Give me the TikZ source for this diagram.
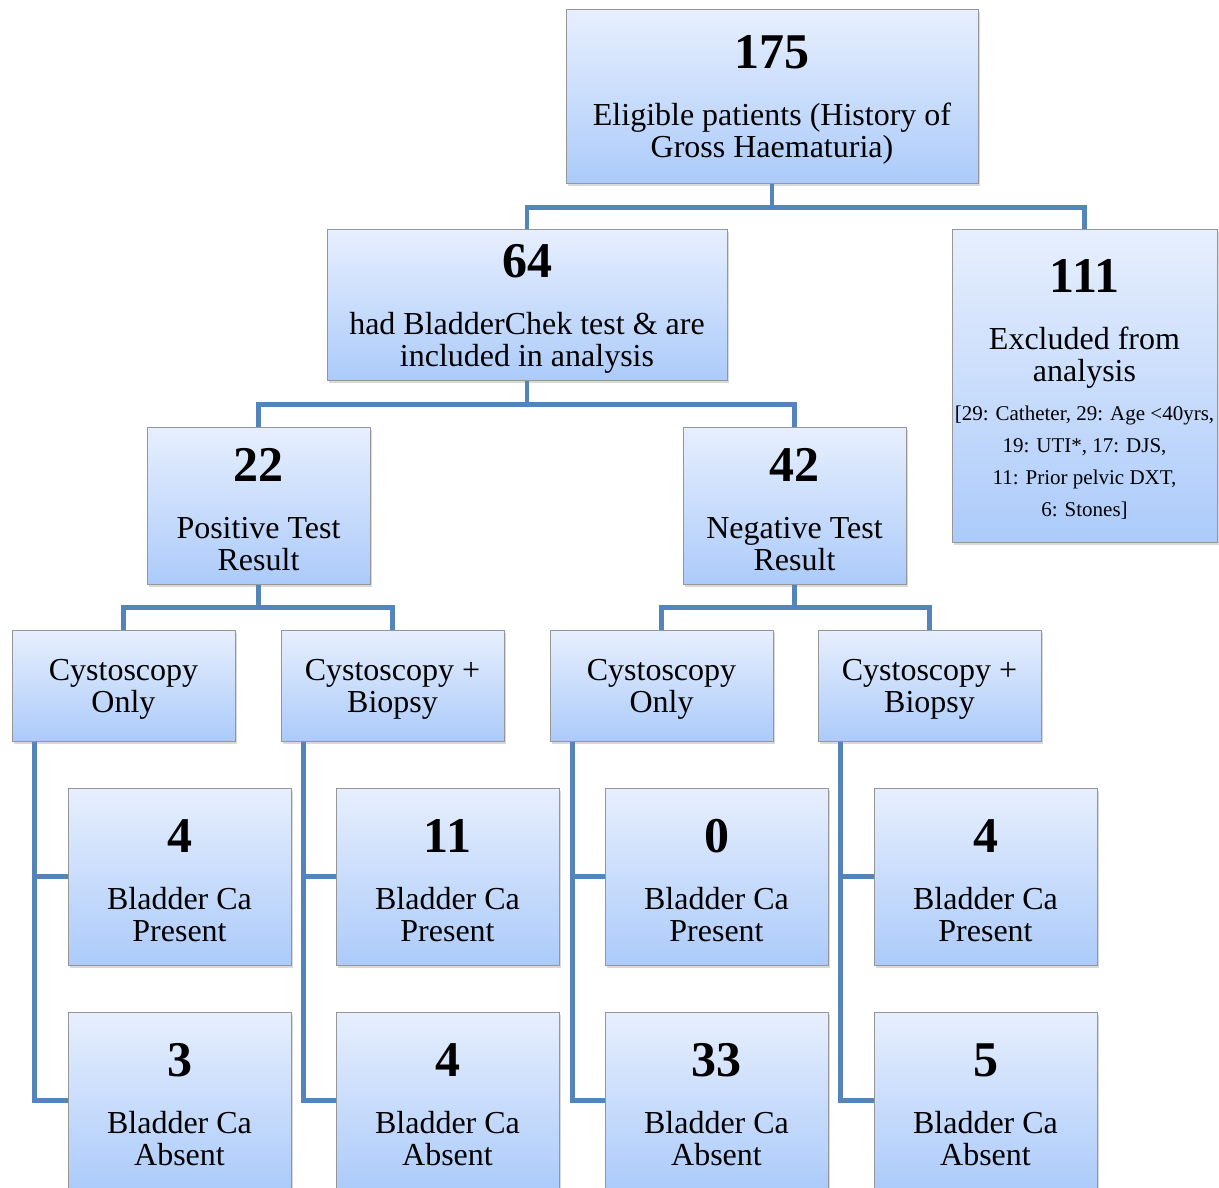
\documentclass[tikz,border=0pt]{standalone}
\usepackage{fontspec}
\setmainfont{Liberation Serif}
\usetikzlibrary{shadows,positioning}

\definecolor{boxtop}{RGB}{231,239,253}
\definecolor{boxbot}{RGB}{172,203,250}
\definecolor{boxline}{RGB}{150,150,150}
\definecolor{linkblue}{RGB}{84,132,186}

\newcommand{\bignum}[1]{\rule{0pt}{41pt}{\fontsize{50}{32}\selectfont\bfseries #1}}
\newcommand{\smallnote}[1]{{\fontsize{21}{32}\selectfont #1}}
\newcommand{\topline}{\rule{0pt}{29pt}}

\tikzset{
  box/.style={draw=boxline, line width=1pt, top color=boxtop, bottom color=boxbot,
    align=center, inner sep=0pt, font=\fontsize{32}{32}\selectfont,
    drop shadow={shadow xshift=1.5pt, shadow yshift=-2.5pt, opacity=0.3}},
  link/.style={draw=linkblue, line width=4.5pt},
}

\begin{document}
\begin{tikzpicture}[x=1pt, y=-1pt]
    \useasboundingbox (0,0) rectangle (1219,1187);
    \clip (0,0) rectangle (1219,1187);
    \def\w{223}
    % top levels
    \node(n175) [box, minimum width=412pt, minimum height=174pt] at (772,96)
        {\bignum{175}\\[25pt]Eligible patients (History of\\Gross Haematuria)};
    \node(b64) [box, minimum width=400pt, minimum height=151pt] at (527,304.5)
        {\bignum{64}\\[25pt]had BladderChek test \& are\\included in analysis};
    \node(b111) [box, minimum width=265pt, minimum height=313pt] at (1084.5,385.5)
        {\bignum{111}\\[25pt]Excluded from\\analysis\\[7pt]
         \smallnote{[29: Catheter, 29: Age <40yrs,}\\
         \smallnote{19: UTI*, 17: DJS,}\\
         \smallnote{11: Prior pelvic DXT,}\\
         \smallnote{6: Stones]}};
    \node(b22) [box, minimum width=\w pt, minimum height=157pt] at (258.5,505.5)
        {\bignum{22}\\[25pt]Positive Test\\Result};
    \node(b42) [box, minimum width=\w pt, minimum height=157pt] at (794.5,505.5)
        {\bignum{42}\\[25pt]Negative Test\\Result};
    % procedures
    \node(c1) [box, minimum width=\w pt, minimum height=111pt] at (123.5,685.5) {\topline Cystoscopy\\Only};
    \node(c2) [box, minimum width=\w pt, minimum height=111pt] at (392.5,685.5) {\topline Cystoscopy +\\Biopsy};
    \node(c3) [box, minimum width=\w pt, minimum height=111pt] at (661.5,685.5) {\topline Cystoscopy\\Only};
    \node(c4) [box, minimum width=\w pt, minimum height=111pt] at (929.5,685.5) {\topline Cystoscopy +\\Biopsy};
    % outcomes
    \node(p1) [box, minimum width=\w pt, minimum height=177pt] at (179.5,876.5) {\bignum{4}\\[25pt]Bladder Ca\\Present};
    \node(p2) [box, minimum width=\w pt, minimum height=177pt] at (447.5,876.5) {\bignum{11}\\[25pt]Bladder Ca\\Present};
    \node(p3) [box, minimum width=\w pt, minimum height=177pt] at (716.5,876.5) {\bignum{0}\\[25pt]Bladder Ca\\Present};
    \node(p4) [box, minimum width=\w pt, minimum height=177pt] at (985.5,876.5) {\bignum{4}\\[25pt]Bladder Ca\\Present};
    \node(a1) [box, minimum width=\w pt, minimum height=177pt] at (179.5,1100.5) {\bignum{3}\\[25pt]Bladder Ca\\Absent};
    \node(a2) [box, minimum width=\w pt, minimum height=177pt] at (447.5,1100.5) {\bignum{4}\\[25pt]Bladder Ca\\Absent};
    \node(a3) [box, minimum width=\w pt, minimum height=177pt] at (716.5,1100.5) {\bignum{33}\\[25pt]Bladder Ca\\Absent};
    \node(a4) [box, minimum width=\w pt, minimum height=177pt] at (985.5,1100.5) {\bignum{5}\\[25pt]Bladder Ca\\Absent};
    % connectors
    \draw[link] (n175.south) -- ++(0,24) coordinate (j1) -| (b64.north);
    \draw[link] (j1) -| (b111.north);
    \draw[link] (b64.south) -- ++(0,24) coordinate (j2) -| (b22.north);
    \draw[link] (j2) -| (b42.north);
    \draw[link] (b22.south) -- ++(0,23) coordinate (j3) -| (c1.north);
    \draw[link] (j3) -| (c2.north);
    \draw[link] (b42.south) -- ++(0,23) coordinate (j4) -| (c3.north);
    \draw[link] (j4) -| (c4.north);
    \foreach \i in {1,...,4} {
        \draw[link] ([xshift=23pt]c\i.south west) |- (p\i.west);
        \draw[link] ([xshift=23pt]c\i.south west) |- (a\i.west);
    }
\end{tikzpicture}
\end{document}
